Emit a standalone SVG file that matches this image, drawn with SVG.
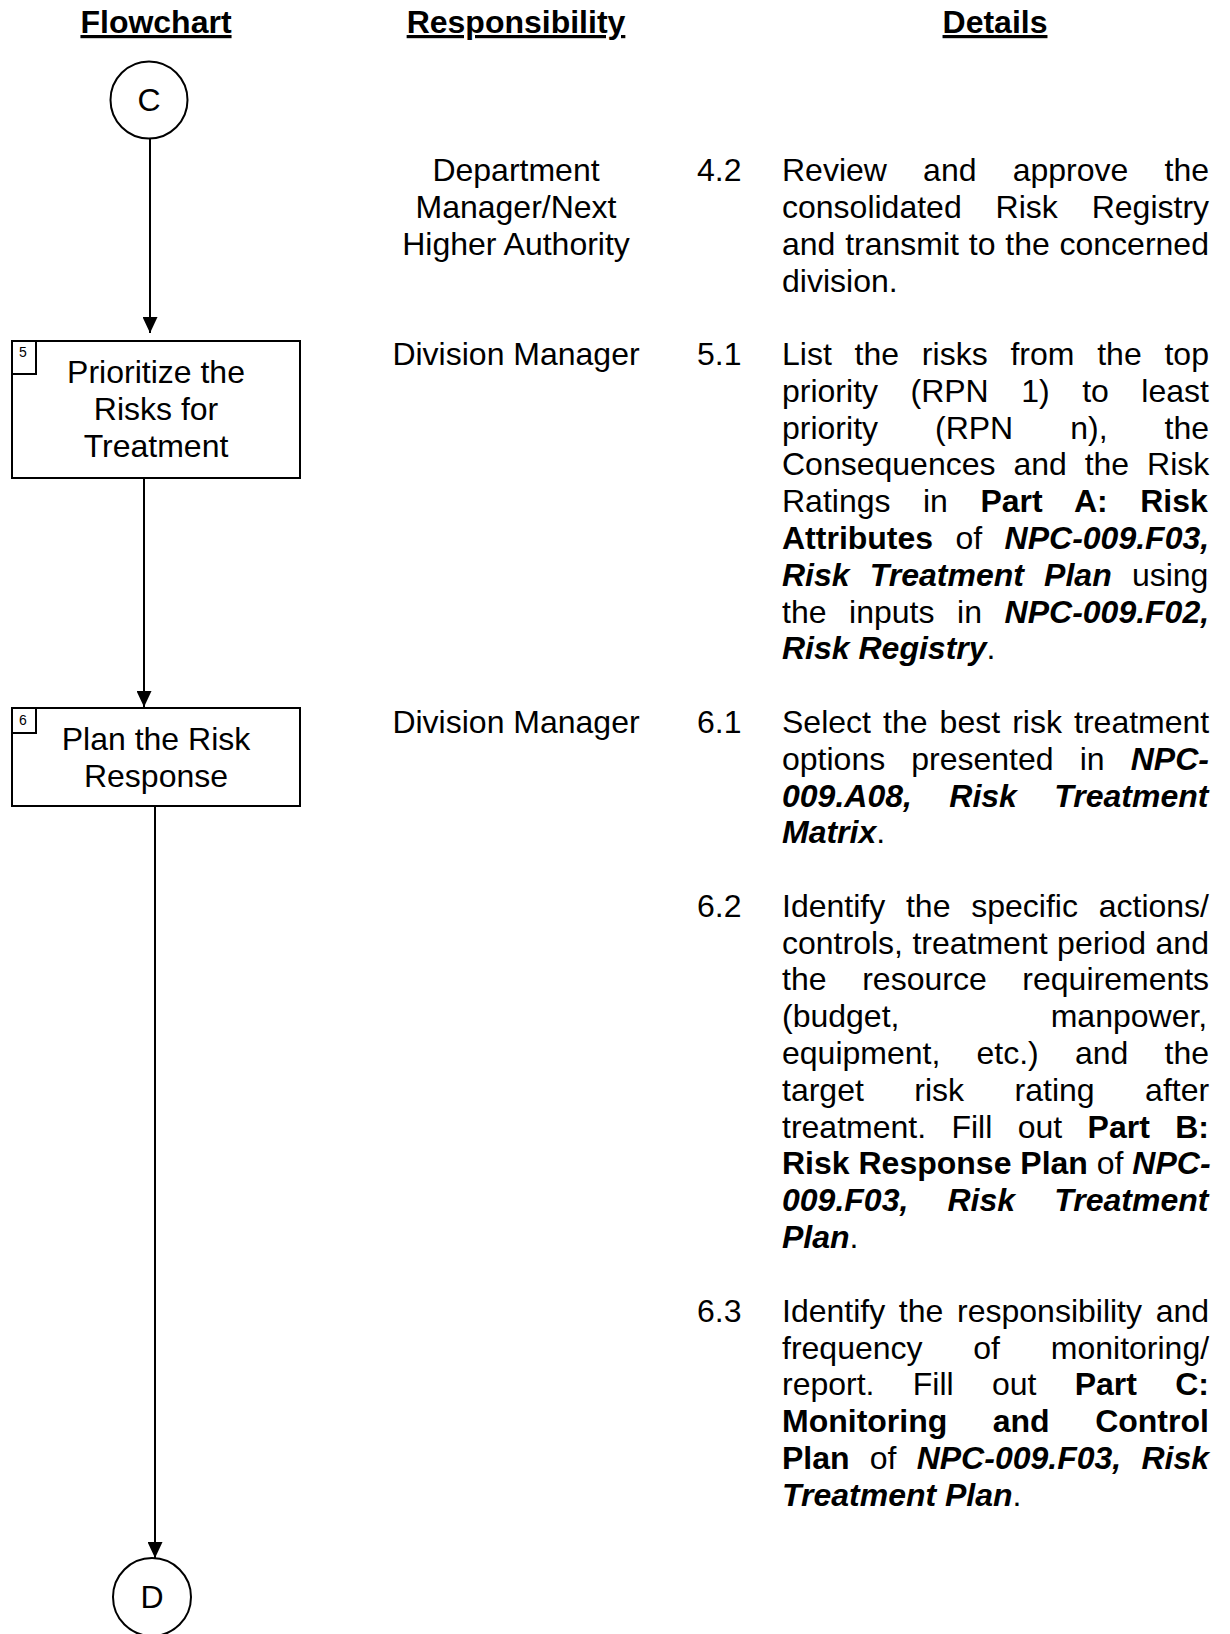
<svg xmlns="http://www.w3.org/2000/svg" width="1230" height="1634" viewBox="0 0 1230 1634">
  <style>
    text { font-family: "Liberation Sans", Arial, sans-serif; font-size: 32px; fill: #000; }
    .h { font-weight: bold; text-decoration: underline; text-anchor: middle; }
    .c { text-anchor: middle; }
    .b { font-weight: bold; }
    .bi { font-weight: bold; font-style: italic; }
    .num { font-size: 14px; text-anchor: middle; }
    .shape { fill: #fff; stroke: #000; stroke-width: 2; }
    .edge { fill: none; stroke: #000; stroke-width: 2; }
  </style>
  <defs>
    <marker id="arrow" markerWidth="16" markerHeight="15" refX="16" refY="7.5" orient="auto" markerUnits="userSpaceOnUse">
      <path d="M0,0 L16,7.5 L0,15 Z" fill="#000"/>
    </marker>
  </defs>

  <rect width="1230" height="1634" fill="#fff"/>

  <!-- column headings -->
  <g id="headings">
    <text class="h" x="156" y="33">Flowchart</text>
    <text class="h" x="516" y="33">Responsibility</text>
    <text class="h" x="995" y="33">Details</text>
  </g>

  <!-- connectors -->
  <g id="connectors">
    <line class="edge" x1="150" y1="138" x2="150" y2="333" marker-end="url(#arrow)"/>
    <line class="edge" x1="144" y1="478" x2="144" y2="707" marker-end="url(#arrow)"/>
    <line class="edge" x1="155" y1="806" x2="155" y2="1558" marker-end="url(#arrow)"/>
  </g>

  <!-- flowchart nodes -->
  <g id="connector-C">
    <circle class="shape" cx="149" cy="100" r="38.5"/>
    <text class="c" x="149" y="111">C</text>
  </g>

  <g id="step-5">
    <rect class="shape" x="12" y="341" width="288" height="137"/>
    <rect class="shape" x="12" y="341" width="24" height="33"/>
    <text class="num" x="23" y="357">5</text>
    <text class="c" x="156" y="383">Prioritize the</text>
    <text class="c" x="156" y="420">Risks for</text>
    <text class="c" x="156" y="457">Treatment</text>
  </g>

  <g id="step-6">
    <rect class="shape" x="12" y="708" width="288" height="98"/>
    <rect class="shape" x="12" y="708" width="24" height="25"/>
    <text class="num" x="23" y="725">6</text>
    <text class="c" x="156" y="750">Plan the Risk</text>
    <text class="c" x="156" y="787">Response</text>
  </g>

  <g id="connector-D">
    <circle class="shape" cx="152" cy="1597" r="39"/>
    <text class="c" x="152" y="1608">D</text>
  </g>

  <!-- responsibility column -->
  <g id="responsibility">
    <text class="c" x="516" y="181">Department</text>
    <text class="c" x="516" y="218">Manager/Next</text>
    <text class="c" x="516" y="255">Higher Authority</text>
    <text class="c" x="516" y="365">Division Manager</text>
    <text class="c" x="516" y="733">Division Manager</text>
  </g>

  <!-- details column: item 4.2 -->
  <g id="detail-4-2">
    <text x="697" y="181">4.2</text>
    <text x="782" y="181" word-spacing="27.3">Review and approve the</text>
    <text x="782" y="218" word-spacing="25">consolidated Risk Registry</text>
    <text x="782" y="255" word-spacing="0.9">and transmit to the concerned</text>
    <text x="782" y="292">division.</text>
  </g>

  <!-- item 5.1 -->
  <g id="detail-5-1">
    <text x="697" y="365">5.1</text>
    <text x="782" y="365" word-spacing="13.9">List the risks from the top</text>
    <text x="782" y="402" word-spacing="23.6">priority (RPN 1) to least</text>
    <text x="782" y="439" word-spacing="48.1">priority (RPN n), the</text>
    <text x="782" y="475" word-spacing="9">Consequences and the Risk</text>
    <text x="782" y="512" word-spacing="23.6">Ratings in <tspan class="b">Part A: Risk</tspan></text>
    <text x="782" y="549" word-spacing="13.5"><tspan class="b">Attributes</tspan> of <tspan class="bi">NPC-009.F03,</tspan></text>
    <text x="782" y="586" word-spacing="11.3"><tspan class="bi">Risk Treatment Plan</tspan> using</text>
    <text x="782" y="623" word-spacing="13.7">the inputs in <tspan class="bi">NPC-009.F02,</tspan></text>
    <text x="782" y="659"><tspan class="bi">Risk Registry</tspan>.</text>
  </g>

  <!-- item 6.1 -->
  <g id="detail-6-1">
    <text x="697" y="733">6.1</text>
    <text x="782" y="733" word-spacing="3.2">Select the best risk treatment</text>
    <text x="782" y="770" word-spacing="17.2">options presented in <tspan class="bi">NPC-</tspan></text>
    <text x="782" y="807" word-spacing="28.5"><tspan class="bi">009.A08, Risk Treatment</tspan></text>
    <text x="782" y="843"><tspan class="bi">Matrix</tspan>.</text>
  </g>

  <!-- item 6.2 -->
  <g id="detail-6-2">
    <text x="697" y="917">6.2</text>
    <text x="782" y="917" word-spacing="11.9">Identify the specific actions/</text>
    <text x="782" y="954" word-spacing="0.6">controls, treatment period and</text>
    <text x="782" y="990" word-spacing="26.8">the resource requirements</text>
    <text x="782" y="1027" word-spacing="142.4">(budget, manpower,</text>
    <text x="782" y="1064" word-spacing="27.3">equipment, etc.) and the</text>
    <text x="782" y="1101" word-spacing="41.6">target risk rating after</text>
    <text x="782" y="1138" word-spacing="16.5">treatment. Fill out <tspan class="b">Part B:</tspan></text>
    <text x="782" y="1174"><tspan class="b">Risk Response Plan</tspan> of <tspan class="bi">NPC-</tspan></text>
    <text x="782" y="1211" word-spacing="30.3"><tspan class="bi">009.F03, Risk Treatment</tspan></text>
    <text x="782" y="1248"><tspan class="bi">Plan</tspan>.</text>
  </g>

  <!-- item 6.3 -->
  <g id="detail-6-3">
    <text x="697" y="1322">6.3</text>
    <text x="782" y="1322" word-spacing="4.8">Identify the responsibility and</text>
    <text x="782" y="1359" word-spacing="41.9">frequency of monitoring/</text>
    <text x="782" y="1395" word-spacing="29.4">report. Fill out <tspan class="b">Part C:</tspan></text>
    <text x="782" y="1432" word-spacing="36.6"><tspan class="b">Monitoring and Control</tspan></text>
    <text x="782" y="1469" word-spacing="11.3"><tspan class="b">Plan</tspan> of <tspan class="bi">NPC-009.F03, Risk</tspan></text>
    <text x="782" y="1506"><tspan class="bi">Treatment Plan</tspan>.</text>
  </g>
</svg>
